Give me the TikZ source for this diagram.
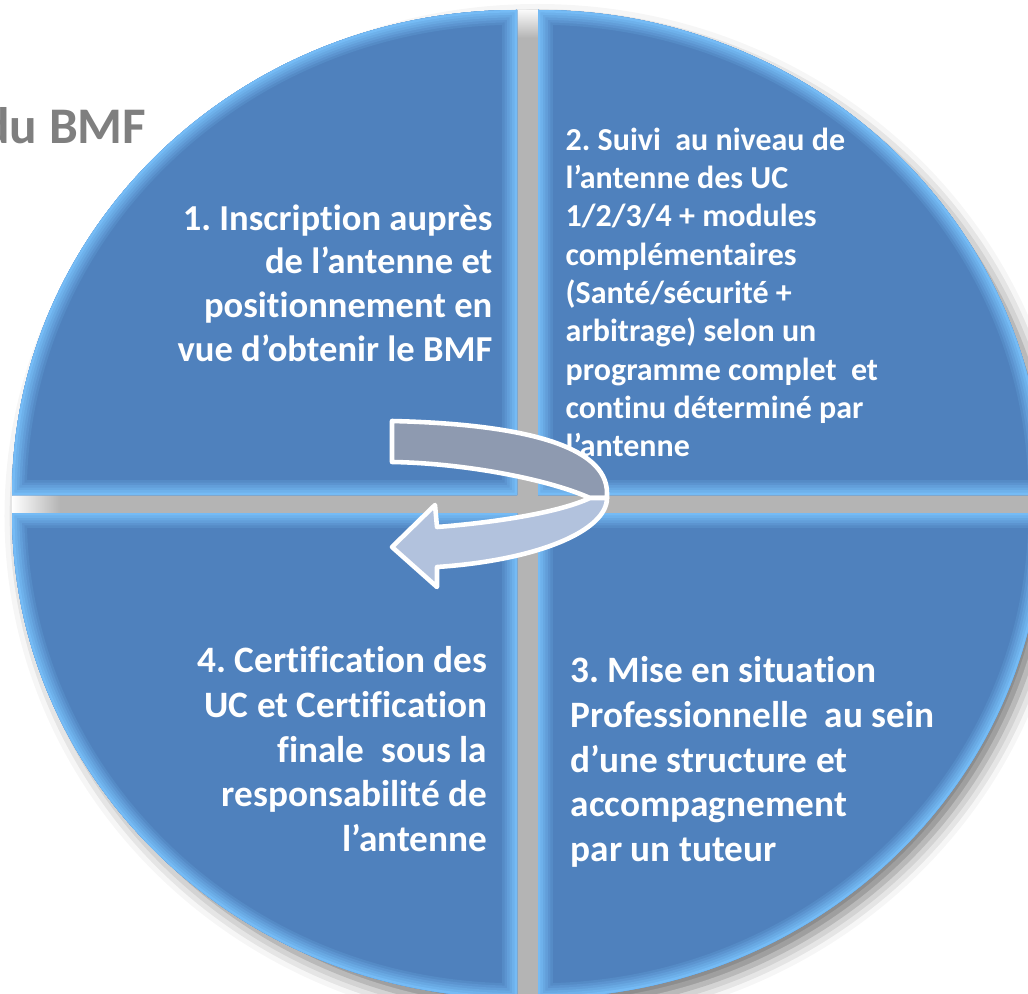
\documentclass[tikz,border=0pt]{standalone}
\usepackage{fontspec}
\setmainfont{Carlito}[Ligatures=NoCommon]
\usetikzlibrary{shadows.blur}
\frenchspacing

\definecolor{pieblue}{HTML}{4F81BD}
\definecolor{rimblue}{HTML}{7CC6FF}
\definecolor{gapgray}{HTML}{B4B4B4}
\definecolor{titlegray}{HTML}{7F7F7F}
\definecolor{backband}{HTML}{8E9AB0}
\definecolor{frontband}{HTML}{B2C2DD}

\tikzset{
  quarter/.style={fill=pieblue},
  steptext/.style={text=white, inner sep=0pt},
  band/.style={draw=white, line width=1.3pt, line join=round}
}

% the four pieces of the disc
\def\quadTL{(517,498) -- (12,498) arc[start angle=180, end angle=90, x radius=505, y radius=485] -- cycle}
\def\quadTR{(538,498) -- (538,983) arc[start angle=90, end angle=0, x radius=505, y radius=485] -- cycle}
\def\quadBR{(538,480) -- (1043,480) arc[start angle=0, end angle=-90, x radius=505, y radius=485] -- cycle}
\def\quadBL{(517,480) -- (517,-5) arc[start angle=-90, end angle=-180, x radius=505, y radius=485] -- cycle}

\newcommand\piebevel[1]{%
  \begin{scope}
    \clip #1;
    \foreach \i [evaluate=\i as \pct using int(\i*14)] in {1,...,6}
      \draw[rimblue!\pct!pieblue, line width={(7-\i)*1.4pt}] #1;
  \end{scope}}

\begin{document}
\begin{tikzpicture}[x=0.01cm, y=0.01cm]
    \useasboundingbox (0,0) rectangle (1028,993);
    \path[blur shadow={shadow xshift=0.1cm, shadow yshift=-0.12cm, shadow blur radius=0.18cm, shadow opacity=55}]
        (527.5,489) ellipse[x radius=515, y radius=494]; % shadow of the disc
    \begin{scope}
        \clip (527.5,489) ellipse[x radius=515, y radius=494];
        \fill[gapgray] (60,480) rectangle (1043,498); % horizontal gap
        \shade[left color=white, right color=gapgray] (12,480) rectangle (60,498);
        \fill[gapgray] (517,-10) rectangle (538,955); % vertical gap
        \shade[top color=white, bottom color=gapgray] (517,955) rectangle (538,985);
    \end{scope}
    \fill[quarter] \quadTL;
    \fill[quarter] \quadTR;
    \fill[quarter] \quadBR;
    \fill[quarter] \quadBL;
    \piebevel{\quadTL}
    \piebevel{\quadTR}
    \piebevel{\quadBR}
    \piebevel{\quadBL}

    \node[font=\bfseries\fontsize{14.6}{17}\selectfont, text=titlegray, inner sep=0pt, anchor=base east] (title) at (147,850) {du BMF};

    \node[steptext, font=\bfseries\fontsize{10.4}{12.4}\selectfont, align=right, anchor=north east] (step1) at (493,789)
        {1. Inscription auprès\\de l’antenne et\\positionnement en\\vue d’obtenir le BMF};
    \node[steptext, font=\bfseries\fontsize{9.1}{10.9}\selectfont, align=left, anchor=north west] (step2) at (565,866)
        {2. Suivi~ au niveau de\\l’antenne des UC\\1/2/3/4 + modules\\complémentaires\\(Santé/sécurité +\\arbitrage) selon un\\programme complet~ et\\continu déterminé par\\l’antenne};
    \node[steptext, font=\bfseries\fontsize{10.6}{12.7}\selectfont, align=left, anchor=north west] (step3) at (570,337)
        {3. Mise en situation\\Professionnelle~ au sein\\d’une structure et\\accompagnement\\par un tuteur};
    \node[steptext, font=\bfseries\fontsize{10.6}{12.7}\selectfont, align=right, anchor=north east] (step4) at (488,347)
        {4. Certification des\\UC et Certification\\finale~ sous la\\responsabilité de\\l’antenne};

    % turning arrow
    \filldraw[band, fill=backband] (392,572) .. controls (520,569) and (607,548) .. (607,500) -- (607,495) -- (590,495)
        .. controls (545,515) and (460,530) .. (392,531) -- cycle;
    \filldraw[band, fill=frontband] (607,495) .. controls (607,463) and (540,433) .. (437,426) -- (437,406) -- (392,446)
        -- (435,488) -- (437,466) .. controls (500,471) and (560,481) .. (590,495) -- cycle;
\end{tikzpicture}
\end{document}
